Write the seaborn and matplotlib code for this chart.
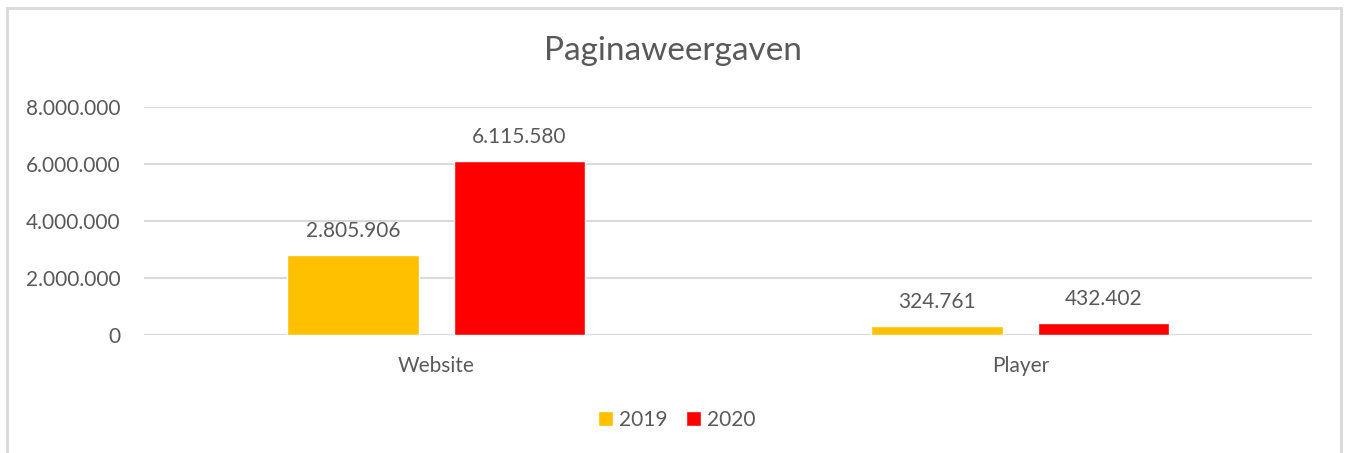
import matplotlib
matplotlib.use("Agg")
import matplotlib.pyplot as plt
import matplotlib.ticker as mticker
from matplotlib.patches import Rectangle
import pandas as pd
import seaborn as sns

categories = ["Website", "Player"]
years = ["2019", "2020"]
values_2019 = [2805906, 324761]
values_2020 = [6115580, 432402]
colors = {"2019": "#FFC000", "2020": "#FF0000"}

df = pd.DataFrame({
    "categorie": categories * 2,
    "jaar": [years[0]] * 2 + [years[1]] * 2,
    "waarde": values_2019 + values_2020,
})

sns.set_style("white")
plt.rcParams["font.family"] = ["Lato", "DejaVu Sans"]
txt = "#595959"
grid = "#d9d9d9"


def nl(x, pos=None):
    return f"{x:,.0f}".replace(",", ".")


fig = plt.figure(figsize=(13.46, 4.53), dpi=100)
ax = fig.add_axes([0.107, 0.2605, 0.868, 0.503])

sns.barplot(data=df, x="categorie", y="waarde", hue="jaar", palette=colors,
            width=0.57, gap=0.21, saturation=1, ax=ax, legend=True)

ax.set_ylim(0, 8000000)
ax.set_xlim(-0.5, 1.5)
ax.yaxis.set_major_locator(mticker.MultipleLocator(2000000))
ax.yaxis.set_major_formatter(mticker.FuncFormatter(nl))
ax.grid(axis="y", color=grid, linewidth=1.5)
ax.set_axisbelow(True)
for s in ax.spines.values():
    s.set_visible(False)
ax.tick_params(axis="both", length=0, labelsize=15, colors=txt)
ax.tick_params(axis="x", pad=15)
ax.tick_params(axis="y", pad=17)
ax.set_xlabel("")
ax.set_ylabel("")

for cont in ax.containers:
    ax.bar_label(cont, labels=[nl(v) for v in cont.datavalues],
                 padding=10, fontsize=15, color=txt)

handles, labels = ax.get_legend_handles_labels()
ax.get_legend().remove()
fig.legend(handles, labels, loc="center", bbox_to_anchor=(0.503, 0.073), ncol=2,
           frameon=False, fontsize=15, labelcolor=txt, handlelength=0.7,
           handleheight=0.7, handletextpad=0.3, columnspacing=0.9)

fig.suptitle("Paginaweergaven", x=0.5, y=0.92, fontsize=24, color=txt)

fig.patches.append(Rectangle((7 / 1346, -0.05), 1334 / 1346, 1 - 8 / 453 + 0.05,
                             transform=fig.transFigure, fill=False,
                             edgecolor=grid, linewidth=2))

fig.savefig("out.png", dpi=100)
